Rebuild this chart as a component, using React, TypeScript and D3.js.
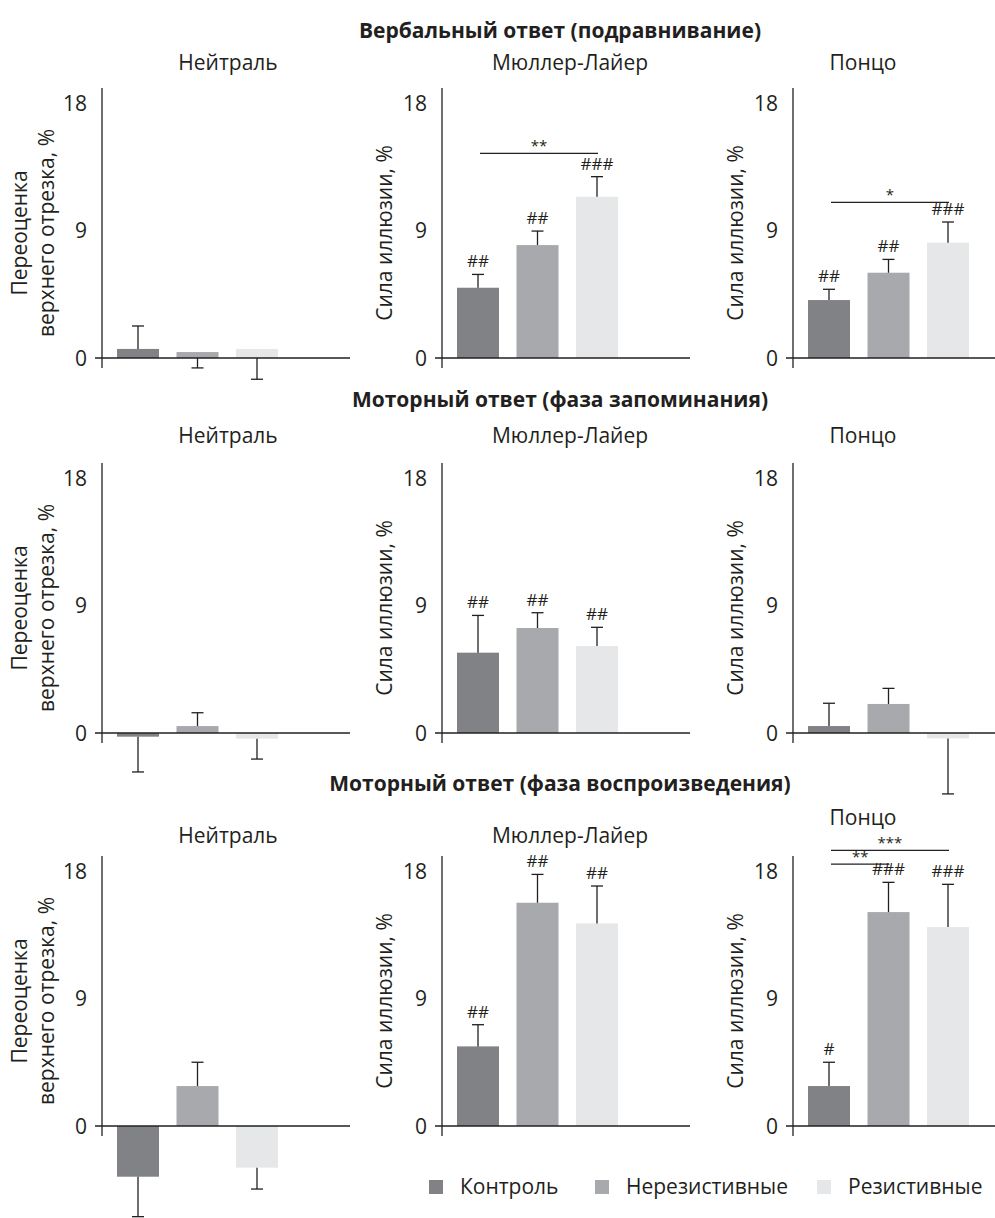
import React, { useRef, useEffect } from "react";
import { select, scaleLinear, scaleBand } from "d3";

// categories
const groups = ["Контроль", "Нерезистивные", "Резистивные"];
const groupColors = ["#808285", "#a7a9ac", "#e6e7e8"];
const illusions = ["Нейтраль", "Мюллер-Лайер", "Понцо"];
const rowTitles = [
  "Вербальный ответ (подравнивание)",
  "Моторный ответ (фаза запоминания)",
  "Моторный ответ (фаза воспроизведения)",
];
const yTicks = [0, 9, 18];

// means per illusion (rows of 3 groups), error bar ends, markers
const verbalMeans = [[0.64, 0.42, 0.64], [4.96, 7.97, 11.38], [4.09, 6.02, 8.14]];
const verbalErrEnds = [[2.26, -0.7, -1.5], [5.9, 8.96, 12.8], [4.85, 6.96, 9.6]];
const verbalMarks = [["", "", ""], ["##", "##", "###"], ["##", "##", "###"]];
const verbalBrackets = [
  { panel: 1, from: 0, to: 2, level: 14.45, label: "**" },
  { panel: 2, from: 0, to: 2, level: 10.99, label: "*" },
];

const memoryMeans = [[-0.26, 0.49, -0.4], [5.67, 7.41, 6.14], [0.49, 2.05, -0.38]];
const memoryErrEnds = [[-2.75, 1.43, -1.84], [8.3, 8.49, 7.46], [2.1, 3.15, -4.3]];
const memoryMarks = [["", "", ""], ["##", "##", "##"], ["", "", ""]];
const memoryBrackets = [];

const reproMeans = [[-3.58, 2.82, -2.94], [5.62, 15.76, 14.3], [2.82, 15.1, 14.04]];
const reproErrEnds = [[-6.4, 4.5, -4.45], [7.15, 17.76, 16.94], [4.5, 17.2, 17.06]];
const reproMarks = [["", "", ""], ["##", "##", "##"], ["#", "###", "###"]];
const reproBrackets = [
  { panel: 2, from: 0, to: 2, level: 19.46, label: "***" },
  { panel: 2, from: 0, to: 1, level: 18.49, label: "**" },
];

const rows = [
  { means: verbalMeans, errs: verbalErrEnds, marks: verbalMarks, brackets: verbalBrackets },
  { means: memoryMeans, errs: memoryErrEnds, marks: memoryMarks, brackets: memoryBrackets },
  { means: reproMeans, errs: reproErrEnds, marks: reproMarks, brackets: reproBrackets },
];

const W = 995;
const H = 1218;
const FONT = "'Open Sans', sans-serif";
const INK = "#231f20";
const axisX = [102, 442, 793];
const zeroY = [358, 733, 1126];
const titleY = [38, 407, 791];
const subtitleX = [228, 570, 863];
const subtitleY = [[70, 70, 70], [443, 443, 443], [843, 843, 825]];
const legendX = [429, 595, 817];

function App() {
  const svgRef = useRef(null);

  useEffect(() => {
    const svg = select(svgRef.current);
    svg.selectAll("*").remove();

    rows.forEach((row, r) => {
      const zero = zeroY[r];
      const y = scaleLinear().domain([0, 18]).range([zero, zero - 255]);

      svg
        .append("text")
        .attr("x", 560)
        .attr("y", titleY[r])
        .attr("text-anchor", "middle")
        .attr("font-weight", 700)
        .attr("font-size", 21)
        .attr("fill", INK)
        .text(rowTitles[r]);

      illusions.forEach((name, p) => {
        const x0 = axisX[p];
        const g = svg.append("g");
        const x = scaleBand()
          .domain(groups)
          .range([x0 + 15, x0 + 176])
          .paddingInner(0.294)
          .paddingOuter(0);
        const cx = (i) => x(groups[i]) + x.bandwidth() / 2;

        g.append("text")
          .attr("x", subtitleX[p])
          .attr("y", subtitleY[r][p])
          .attr("text-anchor", "middle")
          .attr("font-size", 21)
          .attr("fill", INK)
          .text(name);

        // bars
        g.selectAll(".bar")
          .data(row.means[p])
          .join("rect")
          .attr("class", "bar")
          .attr("x", (d, i) => x(groups[i]))
          .attr("width", x.bandwidth())
          .attr("y", (d) => Math.min(y(d), y(0)))
          .attr("height", (d) => Math.abs(y(d) - y(0)))
          .attr("fill", (d, i) => groupColors[i]);

        // error bars
        row.errs[p].forEach((e, i) => {
          const m = row.means[p][i];
          const start = Math.sign(e) === Math.sign(m) && Math.abs(e) > Math.abs(m) ? m : 0;
          g.append("line")
            .attr("x1", cx(i))
            .attr("x2", cx(i))
            .attr("y1", y(start))
            .attr("y2", y(e))
            .attr("stroke", INK)
            .attr("stroke-width", 1.3);
          g.append("line")
            .attr("x1", cx(i) - 6)
            .attr("x2", cx(i) + 6)
            .attr("y1", y(e))
            .attr("y2", y(e))
            .attr("stroke", INK)
            .attr("stroke-width", 1.3);
          const mark = row.marks[p][i];
          if (mark) {
            g.append("text")
              .attr("x", cx(i))
              .attr("y", y(e) - 7)
              .attr("text-anchor", "middle")
              .attr("font-size", 17)
              .attr("fill", INK)
              .text(mark);
          }
        });

        // axes
        g.append("line")
          .attr("x1", x0)
          .attr("x2", x0)
          .attr("y1", zero - 270)
          .attr("y2", zero + 10)
          .attr("stroke", INK)
          .attr("stroke-width", 1.3);
        g.append("line")
          .attr("x1", x0 - 7)
          .attr("x2", x0 + 248)
          .attr("y1", y(0))
          .attr("y2", y(0))
          .attr("stroke", INK)
          .attr("stroke-width", 1.3);

        g.selectAll(".tick")
          .data(yTicks)
          .join("text")
          .attr("class", "tick")
          .attr("x", x0 - 15)
          .attr("y", (d) => y(d))
          .attr("dy", "0.36em")
          .attr("text-anchor", "end")
          .attr("font-size", 21)
          .attr("fill", INK)
          .text((d) => d);

        // axis title
        const lab = g
          .append("text")
          .attr("transform", `translate(${x0},${zero - 125}) rotate(-90)`)
          .attr("text-anchor", "middle")
          .attr("font-size", 21)
          .attr("fill", INK);
        if (p === 0) {
          lab.append("tspan").attr("x", 0).attr("y", -75).text("Переоценка");
          lab.append("tspan").attr("x", 0).attr("y", -48).text("верхнего отрезка, %");
        } else {
          lab.append("tspan").attr("x", 0).attr("y", -50).text("Сила иллюзии, %");
        }

        // significance brackets
        row.brackets
          .filter((b) => b.panel === p)
          .forEach((b) => {
            const xa = cx(b.from) + 2;
            const xb = cx(b.to) + 1;
            g.append("line")
              .attr("x1", xa)
              .attr("x2", xb)
              .attr("y1", y(b.level))
              .attr("y2", y(b.level))
              .attr("stroke", INK)
              .attr("stroke-width", 1.3);
            g.append("text")
              .attr("x", (xa + xb) / 2)
              .attr("y", y(b.level) - 2)
              .attr("text-anchor", "middle")
              .attr("font-size", 15)
              .attr("fill", INK)
              .text(b.label);
          });
      });
    });

    // legend
    const leg = svg.append("g");
    groups.forEach((name, i) => {
      leg.append("rect")
        .attr("x", legendX[i])
        .attr("y", 1180)
        .attr("width", 14)
        .attr("height", 14)
        .attr("fill", groupColors[i]);
      leg.append("text")
        .attr("x", legendX[i] + 31)
        .attr("y", 1194)
        .attr("font-size", 21)
        .attr("fill", INK)
        .text(name);
    });
  }, []);

  return (
    <svg
      ref={svgRef}
      width={W}
      height={H}
      style={{ position: "absolute", left: 0, top: 0, fontFamily: FONT, background: "#fff" }}
    ></svg>
  );
}

export default App;
